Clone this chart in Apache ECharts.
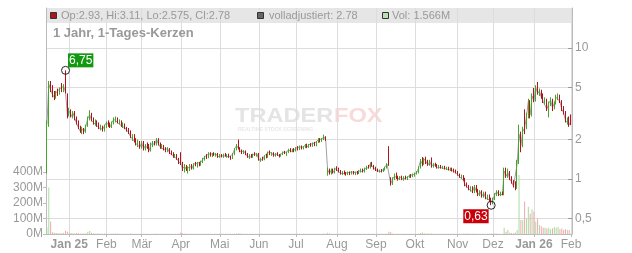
<!DOCTYPE html>
<html><head><meta charset="utf-8">
<script src="https://cdn.jsdelivr.net/npm/echarts@6/dist/echarts.min.js"></script>
<style>html,body{margin:0;padding:0;background:#fff}#c{width:632px;height:253px}</style>
</head><body><div id="c"></div>
<script>
// trading calendar (US exchange holidays)
const startDate = '2024-12-13', endDate = '2026-02-02';
const holidays = ['2024-12-25','2025-01-01','2025-01-09','2025-01-20','2025-02-17','2025-04-18','2025-05-26','2025-06-19','2025-07-04','2025-09-01','2025-11-27','2025-12-25','2026-01-01','2026-01-19'];
const monthNames = ['Jan','Feb','Mär','Apr','Mai','Jun','Jul','Aug','Sep','Okt','Nov','Dez'];
const priceTicks = [0.5, 1, 2, 5, 10];
const volumeTicks = [0, 100, 200, 300, 400]; // millions

const open = [
 1.25,2.6,5.3,4.8,4.4,4.2,4.6,4.5,4.9,4.8,5.2,4.4,
 3.1,3.3,3.0,3.2,2.9,2.65,2.45,2.3,2.4,2.3,2.55,2.9,3.1,2.8,2.7,2.75,2.55,2.45,2.5,2.4,
 2.55,2.7,2.6,2.5,2.7,2.85,2.9,2.7,2.75,2.55,2.6,2.45,2.35,2.25,2.1,2.15,1.95,1.85,1.9,
 1.75,1.9,1.7,1.8,1.75,1.65,1.85,1.9,1.85,2.0,1.85,1.75,1.8,1.68,1.65,1.7,1.58,1.55,1.5,1.52,1.42,
 1.55,1.3,1.2,1.25,1.18,1.22,1.25,1.2,1.3,1.28,1.32,1.28,1.35,1.42,1.48,1.45,1.55,1.52,1.55,1.52,1.55,
 1.48,1.52,1.5,1.54,1.5,1.53,1.47,1.43,1.55,1.7,1.82,1.72,1.62,1.6,1.63,1.55,1.48,1.52,1.47,1.54,1.52,
 1.56,1.4,1.42,1.4,1.5,1.46,1.6,1.55,1.58,1.5,1.56,1.52,1.5,1.54,1.6,1.58,1.6,1.68,1.62,1.67,
 1.65,1.72,1.68,1.76,1.7,1.75,1.82,1.75,1.83,1.78,1.86,1.8,1.92,2.0,1.95,2.02,2.1,1.08,1.18,1.1,1.17,1.12,
 1.2,1.18,1.14,1.1,1.13,1.1,1.09,1.12,1.1,1.13,1.1,1.12,1.1,1.15,1.18,1.14,1.2,1.24,1.22,1.3,1.26,
 1.2,1.18,1.15,1.17,1.14,1.19,1.22,1.42,1.0,0.92,1.0,1.05,1.02,1.0,1.04,1.0,1.03,1.01,1.04,1.06,1.04,
 1.08,1.1,1.12,1.22,1.38,1.3,1.42,1.35,1.28,1.36,1.25,1.3,1.26,1.22,1.26,1.22,1.24,1.2,1.22,1.18,1.2,1.16,1.15,
 1.12,1.08,1.04,1.05,0.98,0.9,0.88,0.84,0.86,0.8,0.88,0.81,0.76,0.8,0.74,0.78,0.72,0.74,0.69,
 0.66,0.7,0.76,0.8,0.76,0.78,0.76,1.15,1.05,1.12,1.0,0.95,0.88,0.85,1.3,2.2,1.8,2.9,2.45,3.0,3.9,3.1,
 4.6,3.95,5.3,4.5,4.7,4.2,3.9,4.0,3.4,3.8,4.0,3.5,3.8,4.2,4.3,3.9,3.4,3.2,2.8,2.9,
 2.93
];
const high = [
 2.8,5.6,5.6,5.2,4.7,4.7,4.9,5.0,5.4,5.3,6.75,4.5,
 3.5,3.4,3.3,3.3,3.0,2.8,2.55,2.5,2.45,2.6,3.0,3.35,3.2,2.95,2.85,2.8,2.7,2.6,2.55,2.6,
 2.75,2.8,2.7,2.75,2.95,3.0,2.95,2.85,2.8,2.7,2.65,2.5,2.45,2.35,2.2,2.2,2.05,2.0,1.95,
 1.95,1.95,1.85,1.9,1.85,1.9,1.95,1.95,2.05,2.05,1.9,1.85,1.82,1.75,1.75,1.72,1.65,1.6,1.55,1.55,1.45,
 1.6,1.35,1.3,1.28,1.25,1.3,1.3,1.32,1.35,1.35,1.35,1.38,1.45,1.5,1.55,1.6,1.6,1.58,1.6,1.58,1.58,
 1.55,1.55,1.56,1.58,1.55,1.56,1.5,1.58,1.72,1.85,2.0,1.75,1.68,1.66,1.65,1.58,1.55,1.55,1.56,1.6,1.58,
 1.58,1.45,1.48,1.52,1.55,1.62,1.65,1.6,1.6,1.58,1.6,1.55,1.56,1.62,1.64,1.62,1.7,1.72,1.7,1.72,
 1.75,1.78,1.8,1.8,1.78,1.85,1.86,1.85,1.88,1.9,1.92,1.95,2.05,2.05,2.05,2.18,2.12,1.22,1.2,1.2,1.2,1.22,
 1.25,1.22,1.17,1.15,1.16,1.13,1.14,1.14,1.15,1.15,1.14,1.15,1.17,1.2,1.2,1.22,1.26,1.28,1.34,1.35,1.28,
 1.24,1.2,1.18,1.19,1.2,1.24,1.32,1.78,1.03,1.03,1.1,1.12,1.06,1.05,1.06,1.05,1.06,1.05,1.08,1.09,1.1,
 1.12,1.15,1.25,1.42,1.47,1.45,1.48,1.4,1.4,1.46,1.32,1.33,1.3,1.28,1.28,1.26,1.26,1.24,1.24,1.22,1.22,1.2,1.18,
 1.15,1.1,1.08,1.07,1.02,0.94,0.9,0.88,0.88,0.9,0.9,0.84,0.82,0.82,0.8,0.8,0.76,0.76,0.72,
 0.72,0.78,0.82,0.82,0.8,0.8,1.22,1.22,1.2,1.15,1.05,0.98,0.96,1.4,2.6,2.3,2.5,3.4,3.2,4.1,4.0,4.5,
 4.95,5.2,5.5,4.9,4.8,4.5,4.2,4.1,3.9,4.2,4.1,3.9,4.4,4.5,4.4,4.0,3.6,3.3,2.95,3.0,
 3.11
];
const low = [
 1.1,2.5,4.6,4.2,4.0,4.1,4.3,4.4,4.6,4.6,4.5,2.9,
 3.0,2.95,2.9,2.8,2.6,2.4,2.25,2.2,2.2,2.25,2.5,2.8,2.75,2.6,2.55,2.5,2.4,2.35,2.3,2.3,
 2.45,2.5,2.45,2.45,2.6,2.7,2.65,2.6,2.5,2.45,2.4,2.3,2.2,2.05,1.95,1.9,1.8,1.75,1.7,
 1.7,1.65,1.65,1.7,1.6,1.62,1.75,1.8,1.8,1.8,1.7,1.7,1.65,1.6,1.6,1.55,1.52,1.45,1.45,1.4,1.3,
 1.28,1.15,1.12,1.15,1.1,1.15,1.18,1.18,1.25,1.22,1.25,1.26,1.32,1.38,1.42,1.44,1.48,1.47,1.5,1.48,1.45,
 1.45,1.46,1.45,1.48,1.45,1.45,1.4,1.42,1.52,1.65,1.68,1.6,1.55,1.55,1.52,1.45,1.42,1.45,1.45,1.5,1.48,
 1.38,1.35,1.38,1.39,1.44,1.45,1.52,1.5,1.48,1.48,1.5,1.46,1.48,1.52,1.55,1.5,1.58,1.6,1.6,1.6,
 1.62,1.65,1.66,1.68,1.68,1.72,1.72,1.73,1.76,1.76,1.78,1.78,1.88,1.9,1.92,1.98,1.95,1.06,1.08,1.08,1.1,1.1,
 1.15,1.12,1.08,1.07,1.08,1.06,1.07,1.07,1.08,1.08,1.07,1.08,1.09,1.12,1.12,1.12,1.17,1.2,1.2,1.24,1.18,
 1.15,1.13,1.12,1.12,1.13,1.16,1.2,1.26,0.89,0.9,0.98,1.0,0.97,0.98,0.98,0.97,0.99,0.98,1.02,1.02,1.03,
 1.04,1.08,1.1,1.2,1.25,1.28,1.3,1.26,1.26,1.22,1.22,1.24,1.2,1.2,1.2,1.19,1.18,1.17,1.16,1.15,1.14,1.12,1.1,
 1.06,1.02,1.0,0.97,0.88,0.86,0.82,0.8,0.78,0.78,0.79,0.74,0.74,0.72,0.72,0.7,0.69,0.67,0.63,
 0.64,0.69,0.74,0.74,0.74,0.75,0.75,1.02,1.02,0.98,0.92,0.86,0.82,0.84,1.3,1.6,1.75,2.2,2.4,2.9,2.9,3.0,
 3.85,3.9,4.4,4.3,4.1,3.8,3.7,3.3,2.95,3.6,3.3,3.4,3.7,4.0,3.8,3.3,3.1,2.7,2.6,2.5,
 2.575
];
const close = [
 2.6,5.3,4.8,4.4,4.2,4.6,4.5,4.9,4.8,5.1,4.6,3.1,
 3.3,3.0,3.2,2.9,2.65,2.45,2.3,2.4,2.3,2.55,2.9,3.1,2.8,2.7,2.75,2.55,2.45,2.5,2.4,2.55,
 2.7,2.6,2.5,2.7,2.85,2.9,2.7,2.75,2.55,2.6,2.45,2.35,2.25,2.1,2.15,1.95,1.85,1.9,1.75,
 1.9,1.7,1.8,1.75,1.65,1.85,1.9,1.85,2.0,1.85,1.75,1.8,1.68,1.65,1.7,1.58,1.55,1.5,1.52,1.42,1.35,
 1.3,1.2,1.25,1.18,1.22,1.25,1.2,1.3,1.28,1.32,1.28,1.35,1.42,1.48,1.45,1.55,1.52,1.55,1.52,1.55,1.48,
 1.52,1.5,1.54,1.5,1.53,1.47,1.43,1.55,1.7,1.8,1.72,1.62,1.6,1.63,1.55,1.48,1.52,1.47,1.54,1.52,1.56,
 1.4,1.42,1.4,1.5,1.46,1.6,1.55,1.58,1.5,1.56,1.52,1.5,1.54,1.6,1.58,1.6,1.68,1.62,1.67,1.65,
 1.72,1.68,1.76,1.7,1.75,1.82,1.75,1.83,1.78,1.86,1.8,1.92,2.0,1.95,2.02,2.1,1.98,1.18,1.1,1.17,1.12,1.2,
 1.18,1.14,1.1,1.13,1.1,1.09,1.12,1.1,1.13,1.1,1.12,1.1,1.15,1.18,1.14,1.2,1.24,1.22,1.3,1.26,1.2,
 1.18,1.15,1.17,1.14,1.19,1.22,1.3,1.28,0.92,1.0,1.05,1.02,1.0,1.04,1.0,1.03,1.01,1.04,1.06,1.04,1.08,
 1.1,1.12,1.22,1.38,1.3,1.42,1.35,1.28,1.36,1.25,1.3,1.26,1.22,1.26,1.22,1.24,1.2,1.22,1.18,1.2,1.16,1.15,1.12,
 1.08,1.04,1.05,0.98,0.9,0.88,0.84,0.86,0.8,0.88,0.81,0.76,0.8,0.74,0.78,0.72,0.74,0.69,0.66,
 0.7,0.76,0.8,0.76,0.78,0.76,1.15,1.05,1.12,1.0,0.95,0.88,0.85,1.3,2.2,1.8,2.3,2.45,3.0,3.9,3.1,4.3,
 3.95,5.0,4.5,4.7,4.2,3.9,4.0,3.4,3.8,4.0,3.5,3.8,4.2,4.3,3.9,3.4,3.2,2.8,2.9,2.6,
 2.78
];
const volume = [ // millions
 40,300,80,12,8,6,5,6,5,8,20,15,
 10,6,5,4,6,5,4,3,3,5,15,20,8,5,4,3,3,3,2,3,
 3,2,2,3,4,4,3,2,2,2,2,2,2,3,2,2,2,2,2,
 2,2,2,2,2,2,2,2,3,2,2,2,2,2,2,2,2,2,2,2,3,
 10,6,3,2,2,2,2,2,2,2,2,2,2,2,2,2,2,2,2,2,2,
 2,2,2,2,2,2,2,2,3,3,5,3,2,2,2,2,2,2,2,2,2,
 2,2,2,2,2,2,2,2,2,2,2,2,2,2,2,2,2,2,2,2,
 2,2,2,2,2,2,2,2,2,2,2,2,2,2,2,3,2,8,4,2,2,2,
 2,2,2,2,2,2,2,2,2,2,2,2,2,2,2,2,2,2,2,2,2,
 2,2,2,2,2,2,3,15,12,4,2,2,2,2,2,2,2,2,2,2,2,
 2,2,3,6,10,5,4,3,3,3,2,2,2,2,2,2,2,2,2,2,2,2,2,
 2,2,2,3,4,3,3,2,2,3,2,2,2,2,2,2,2,3,4,
 3,3,3,2,2,2,40,15,25,8,6,5,10,25,380,90,90,210,100,175,130,160,
 145,80,100,58,50,40,40,35,40,30,35,45,40,45,30,35,25,30,25,25,
 1.566
];

function tradingDays() {
  const out = [];
  const d = new Date(startDate + 'T00:00:00Z');
  const end = new Date(endDate + 'T00:00:00Z');
  while (d <= end) {
    const wd = d.getUTCDay();
    const s = d.toISOString().slice(0, 10);
    if (wd !== 0 && wd !== 6 && holidays.indexOf(s) < 0) out.push(s);
    d.setUTCDate(d.getUTCDate() + 1);
  }
  return out;
}
const dates = tradingDays();
const isMonthStart = (i) => i > 0 && dates[i].slice(5, 7) !== dates[i - 1].slice(5, 7);

const GREEN = '#46a62c', RED = '#b3121b';
const last = close.length - 1;
let maxIdx = 0, minIdx = 0;
high.forEach((v, i) => { if (v > high[maxIdx]) maxIdx = i; });
low.forEach((v, i) => { if (v < low[minIdx]) minIdx = i; });
const fmtDE = (v) => v.toFixed(2).replace('.', ',');
const FONT = '"Liberation Sans", Arial, sans-serif';

const chart = echarts.init(document.getElementById('c'), null, {renderer: 'canvas'});
chart.setOption({
  animation: false,
  textStyle: {fontFamily: FONT},
  grid: {left: 46, right: 60, top: 8, bottom: 19, containLabel: false},
  xAxis: {
    type: 'category', data: dates, boundaryGap: true,
    axisLine: {show: true, lineStyle: {color: '#bbb'}},
    axisTick: {show: true, alignWithLabel: true, interval: (i) => isMonthStart(i), length: 3, lineStyle: {color: '#bbb'}},
    axisLabel: {
      interval: (i) => isMonthStart(i), color: '#999', fontSize: 12, margin: 5, fontFamily: FONT,
      formatter: (v) => { const m = +v.slice(5, 7) - 1; return m === 0 ? '{b|Jan ' + v.slice(2, 4) + '}' : monthNames[m]; },
      rich: {b: {fontWeight: 'bold', color: '#999', fontSize: 12, fontFamily: FONT}}
    },
    splitLine: {show: true, interval: (i) => isMonthStart(i), alignWithLabel: true, lineStyle: {color: '#ddd'}}
  },
  yAxis: [
    {
      type: 'log', position: 'right', min: 0.38, max: 20.2,
      axisLine: {show: true, lineStyle: {color: '#bbb'}},
      axisTick: {show: true, inside: true, length: 4, customValues: priceTicks, lineStyle: {color: '#999'}},
      axisLabel: {customValues: priceTicks, color: '#999', fontSize: 12, margin: 3, fontFamily: FONT,
        formatter: (v) => String(v).replace('.', ',')},
      splitLine: {show: true, lineStyle: {color: '#ddd'}}
    },
    {
      type: 'value', position: 'left', min: 0, max: 1458,
      axisLine: {show: true, lineStyle: {color: '#bbb'}},
      axisTick: {show: true, length: 3, customValues: volumeTicks, lineStyle: {color: '#bbb'}},
      axisLabel: {customValues: volumeTicks, color: '#999', fontSize: 12, margin: 3, fontFamily: FONT,
        formatter: (v) => v + 'M'},
      splitLine: {show: false}
    }
  ],
  series: [
    {
      type: 'bar', xAxisIndex: 0, yAxisIndex: 1, barWidth: 1, z: 1,
      data: volume.map((v, i) => ({value: v, itemStyle: {color: close[i] >= open[i] ? '#a8dba1' : '#f2a8ac'}}))
    },
    {
      type: 'line', yAxisIndex: 0, data: close, symbol: 'none', z: 2,
      lineStyle: {color: '#a0a0a0', width: 1}
    },
    {
      type: 'candlestick', yAxisIndex: 0, barWidth: 1, z: 3,
      data: dates.map((d, i) => [open[i], close[i], low[i], high[i]]),
      itemStyle: {color: GREEN, color0: RED, borderColor: GREEN, borderColor0: RED, borderWidth: 1},
      markPoint: {
        symbol: 'circle', symbolSize: 8, silent: true, animation: false,
        itemStyle: {color: 'rgba(255,255,255,0)', borderColor: '#222', borderWidth: 1},
        data: [
          {coord: [maxIdx, high[maxIdx]], label: {show: true, formatter: fmtDE(high[maxIdx]), position: 'right', distance: 0,
            offset: [-2, -10], color: '#fff', fontSize: 12, fontFamily: FONT, backgroundColor: '#13990f', padding: [1, 1, 1, 1], lineHeight: 12}},
          {coord: [minIdx, low[minIdx]], label: {show: true, formatter: fmtDE(low[minIdx]), position: 'left', distance: 0,
            offset: [2, 11], color: '#fff', fontSize: 12, fontFamily: FONT, backgroundColor: '#c8000a', padding: [1, 1, 1, 1], lineHeight: 12}}
        ]
      }
    }
  ],
  graphic: [
    {type: 'rect', z: -10, silent: true, shape: {x: 46, y: 8, width: 526, height: 15}, style: {fill: '#e6e6e6'}},
    {type: 'rect', z: 10, shape: {x: 50.5, y: 12.5, width: 6, height: 6}, style: {fill: RED, stroke: '#333', lineWidth: 1}},
    {type: 'text', z: 10, x: 61, y: 16, style: {text: 'Op:' + open[last] + ', Hi:' + high[last] + ', Lo:' + low[last] + ', Cl:' + close[last],
      fill: '#999', font: '11px ' + FONT, verticalAlign: 'middle'}},
    {type: 'rect', z: 10, shape: {x: 257.5, y: 12.5, width: 6, height: 6}, style: {fill: '#666', stroke: '#333', lineWidth: 1}},
    {type: 'text', z: 10, x: 269, y: 16, style: {text: 'volladjustiert: ' + close[last], fill: '#999', font: '11px ' + FONT, verticalAlign: 'middle'}},
    {type: 'rect', z: 10, shape: {x: 382.5, y: 12.5, width: 6, height: 6}, style: {fill: '#b8e0b2', stroke: '#333', lineWidth: 1}},
    {type: 'text', z: 10, x: 392, y: 16, style: {text: 'Vol: ' + volume[last] + 'M', fill: '#999', font: '11px ' + FONT, verticalAlign: 'middle'}},
    {type: 'text', z: 10, x: 53, y: 33.5, style: {text: '1 Jahr, 1-Tages-Kerzen', fill: '#999', font: 'bold 13px ' + FONT, verticalAlign: 'middle'}},
    {type: 'text', z: -5, silent: true, x: 235, y: 116, scaleX: 1.18, style: {text: 'TRADER', fill: '#e4e4e4', font: 'bold 20px ' + FONT, verticalAlign: 'middle'}},
    {type: 'text', z: -5, silent: true, x: 334, y: 116, scaleX: 1.18, style: {text: 'FOX', fill: '#f9dada', font: 'bold 20px ' + FONT, verticalAlign: 'middle'}},
    {type: 'text', z: -5, silent: true, x: 238, y: 130, style: {text: 'REALTIME STOCK SCREENING', fill: '#e8e8e8', font: 'bold 5px ' + FONT, verticalAlign: 'middle'}}
  ]
});
if (dates.length !== close.length) console.error('length mismatch', dates.length, close.length);
</script>
</body></html>
